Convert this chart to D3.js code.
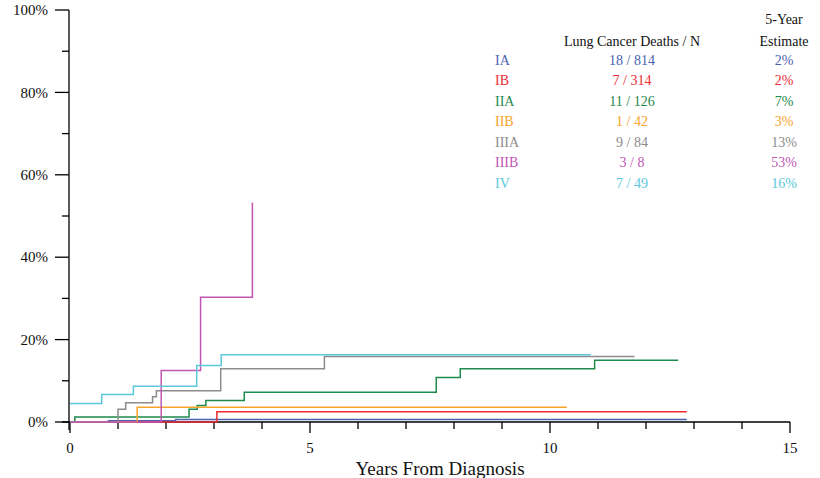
<!DOCTYPE html>
<html><head><meta charset="utf-8">
<script src="https://cdn.jsdelivr.net/npm/d3@7"></script>
<style>body{margin:0;background:#fff}svg{display:block}text{font-family:"Liberation Serif","Times New Roman",serif}</style>
</head><body><svg id="c" width="820" height="478"></svg>
<script>
const stages = ["IA","IB","IIA","IIB","IIIA","IIIB","IV"];
const deathsN = ["18 / 814","7 / 314","11 / 126","1 / 42","9 / 84","3 / 8","7 / 49"];
const estimates = ["2%","2%","7%","3%","13%","53%","16%"];
const colors = ["#4a62b0","#ee2a33","#1e8a4c","#f7a42a","#8c8c8c","#c055b4","#5cc8dc"];
// step curves: event times (years) and cumulative incidence (%)
const tIA = [0, 0.8, 2.2, 12.85];
const vIA = [0, 0.3, 0.6, 0.6];
const tIB = [0, 3.06, 12.85];
const vIB = [0, 2.5, 2.5];
const tIIA = [0, 0.1, 2.48, 2.65, 2.83, 3.63, 7.63, 8.13, 10.93, 12.67];
const vIIA = [0, 1.2, 3.1, 4.0, 5.2, 7.2, 10.8, 12.9, 15.0, 15.0];
const tIIB = [0, 1.40, 10.35];
const vIIB = [0, 3.6, 3.6];
const tIIIA = [0, 1.0, 1.16, 1.72, 1.80, 3.14, 5.3, 11.76];
const vIIIA = [0, 3.1, 4.7, 6.1, 7.6, 12.9, 15.9, 15.9];
const tIIIB = [0, 1.9, 2.72, 3.8];
const vIIIB = [0, 12.5, 30.3, 53.3];
const tIV = [0, 0.66, 1.32, 2.64, 3.15, 10.85];
const vIV = [4.5, 6.7, 8.7, 13.7, 16.3, 16.3];
const times = [tIA,tIB,tIIA,tIIB,tIIIA,tIIIB,tIV];
const vals = [vIA,vIB,vIIA,vIIB,vIIIA,vIIIB,vIV];
const xTickLabels = [0,5,10,15];
const yTickLabels = [0,20,40,60,80,100];

const svg = d3.select("#c");
const x = d3.scaleLinear().domain([0,15]).range([70,790]);
const y = d3.scaleLinear().domain([0,100]).range([422,10]);

// y axis
const gy = svg.append("g");
gy.append("line").attr("x1",69).attr("x2",69).attr("y1",y(100)).attr("y2",y(0)+8).attr("stroke","#000").attr("stroke-width",1.3);
d3.range(0,101,10).forEach(v=>{
  const major = v%20===0;
  gy.append("line").attr("x1",69-(major?14:7)).attr("x2",69).attr("y1",y(v)).attr("y2",y(v)).attr("stroke","#000").attr("stroke-width",1.3);
});
gy.selectAll("text").data(yTickLabels).join("text")
  .attr("x",48).attr("y",d=>y(d)).attr("dy","0.35em").attr("text-anchor","end")
  .attr("font-size",15).attr("fill","#111").text(d=>d+"%");

// x axis
const gx = svg.append("g");
gx.append("line").attr("x1",62).attr("x2",x(15)).attr("y1",y(0)).attr("y2",y(0)).attr("stroke","#000").attr("stroke-width",1.3);
d3.range(0,16,1).forEach(v=>{
  const major = v%5===0;
  gx.append("line").attr("x1",x(v)).attr("x2",x(v)).attr("y1",y(0)).attr("y2",y(0)+(major?11:7)).attr("stroke","#000").attr("stroke-width",1.3);
});
gx.selectAll("text").data(xTickLabels).join("text")
  .attr("x",d=>x(d)).attr("y",448).attr("dy","0.35em").attr("text-anchor","middle")
  .attr("font-size",15).attr("fill","#111").text(d=>d);
svg.append("text").attr("x",440).attr("y",468).attr("dy","0.35em").attr("text-anchor","middle")
  .attr("font-size",19).attr("fill","#111").text("Years From Diagnosis");

// curves
const line = d3.line().x(d=>x(d[0])).y(d=>y(d[1])).curve(d3.curveStepAfter);
stages.forEach((s,i)=>{
  const pts = times[i].map((t,j)=>[t, vals[i][j]]);
  svg.append("path").attr("d",line(pts)).attr("fill","none").attr("stroke",colors[i]).attr("stroke-width",1.5);
});

// legend
svg.append("text").attr("x",632).attr("y",41).attr("dy","0.35em").attr("text-anchor","middle").attr("font-size",14).attr("fill","#111").text("Lung Cancer Deaths / N");
svg.append("text").attr("x",784).attr("y",19).attr("dy","0.35em").attr("text-anchor","middle").attr("font-size",14).attr("fill","#111").text("5-Year");
svg.append("text").attr("x",784).attr("y",41).attr("dy","0.35em").attr("text-anchor","middle").attr("font-size",14).attr("fill","#111").text("Estimate");
stages.forEach((s,i)=>{
  const yy = 60 + i*20.5;
  svg.append("text").attr("x",495).attr("y",yy).attr("dy","0.35em").attr("font-size",14).attr("fill",colors[i]).text(s);
  svg.append("text").attr("x",632).attr("y",yy).attr("dy","0.35em").attr("text-anchor","middle").attr("font-size",14).attr("fill",colors[i]).text(deathsN[i]);
  svg.append("text").attr("x",784).attr("y",yy).attr("dy","0.35em").attr("text-anchor","middle").attr("font-size",14).attr("fill",colors[i]).text(estimates[i]);
});
</script></body></html>
